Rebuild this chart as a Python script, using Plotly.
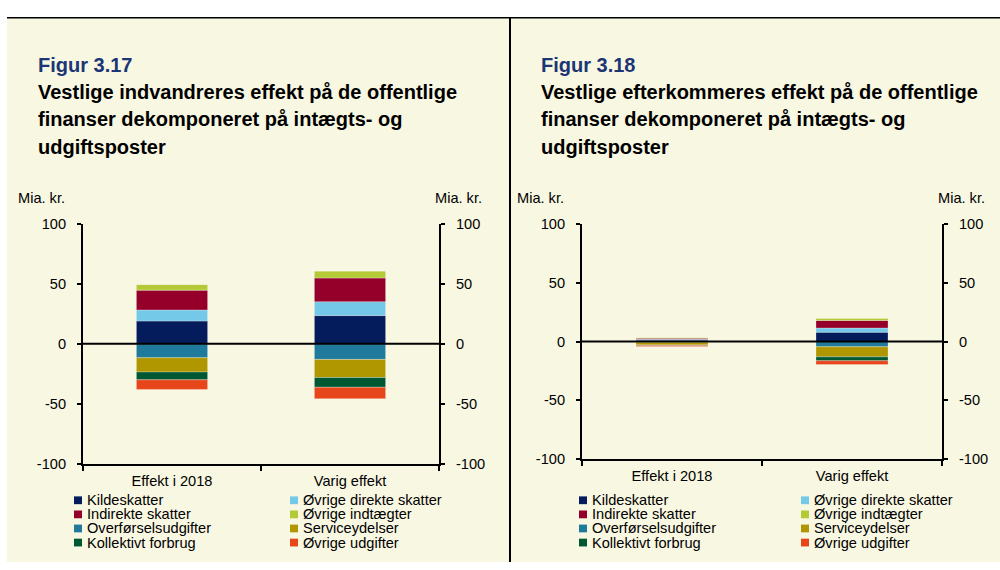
import plotly.graph_objects as go

# ---------------- data ----------------
categories = ["Effekt i 2018", "Varig effekt"]
series_names = ["Kildeskatter", "Øvrige direkte skatter", "Indirekte skatter", "Øvrige indtægter",
                "Overførselsudgifter", "Serviceydelser", "Kollektivt forbrug", "Øvrige udgifter"]
series_colors = ["#041C5B", "#74C8E8", "#95002B", "#B3C935",
                 "#1F7A9C", "#B09700", "#005833", "#E64619"]

# Figur 3.17 (vestlige indvandrere), Mia. kr.
fig17_2018 = [19.0, 9.2, 16.5, 4.6, -11.6, -11.9, -6.5, -8.1]
fig17_varig = [23.5, 11.6, 19.7, 5.7, -13.0, -15.1, -8.1, -9.5]
# Figur 3.18 (vestlige efterkommere), Mia. kr.
fig18_2018 = [1.2, 0.8, 0.9, 0.4, -0.6, -2.2, -0.6, -0.7]
fig18_varig = [8.0, 3.6, 6.4, 1.7, -4.4, -8.6, -3.3, -3.3]

y_ticks = [-100, -50, 0, 50, 100]
y_tick_labels = ["-100", "-50", "0", "50", "100"]
unit_label = "Mia. kr."
titles_fig = ["Figur 3.17", "Figur 3.18"]
titles_text = [
    ["Vestlige indvandreres effekt på de offentlige", "finanser dekomponeret på intægts- og", "udgiftsposter"],
    ["Vestlige efterkommeres effekt på de offentlige", "finanser dekomponeret på intægts- og", "udgiftsposter"],
]

# ---------------- layout constants ----------------
W, H = 1000, 570
FONT = "Liberation Sans, Arial, sans-serif"
BG = "#F8F7E2"
FS = 14.6
TFS = 20


def px(x):
    return x / W


def py(y):
    return 1 - y / H


fig = go.Figure()

panels = [
    dict(xa="x", ya="y", ya_r="y3", vals=(fig17_2018, fig17_varig),
         xdom=[83, 439], ydom=[469, 222], left=7, right=510, leg=[74, 290], title_x=36),
    dict(xa="x2", ya="y2", ya_r="y4", vals=(fig18_2018, fig18_varig),
         xdom=[582, 942], ydom=[464, 222.5], left=511, right=1000, leg=[579, 801], title_x=539),
]

for p in panels:
    v2018, vvarig = p["vals"]
    for i, name in enumerate(series_names):
        fig.add_trace(go.Bar(
            x=categories, y=[v2018[i], vvarig[i]], name=name,
            marker=dict(color=series_colors[i], line=dict(width=0.6, color="rgba(255,255,255,0.45)")),
            xaxis=p["xa"], yaxis=p["ya"], showlegend=False,
        ))
    # empty trace so the mirrored right-hand axis is drawn
    fig.add_trace(go.Scatter(x=categories, y=[None, None], mode="markers", xaxis=p["xa"],
                             yaxis=p["ya_r"], showlegend=False, hoverinfo="skip"))

axis_common = dict(
    showline=True, linecolor="black", linewidth=2, ticks="outside", tickcolor="black",
    tickwidth=1.5, showgrid=False, zeroline=False,
    tickfont=dict(family=FONT, size=FS, color="black"),
)

layout = dict(
    width=W, height=H, margin=dict(l=0, r=0, t=0, b=0),
    paper_bgcolor="white", plot_bgcolor="rgba(0,0,0,0)",
    barmode="relative", bargap=0.6, showlegend=False,
    font=dict(family=FONT, size=FS, color="black"),
)

shapes = []
annotations = []

for k, p in enumerate(panels):
    xname = "xaxis" if k == 0 else "xaxis2"
    yname = "yaxis" if k == 0 else "yaxis2"
    yrname = "yaxis3" if k == 0 else "yaxis4"
    ydom = [py(p["ydom"][0]), py(p["ydom"][1])]
    layout[xname] = dict(axis_common, domain=[px(p["xdom"][0]), px(p["xdom"][1])],
                         type="category", range=[-0.5, 1.5], tickson="boundaries",
                         ticklen=5, anchor=p["ya"], ticklabelstandoff=3)
    layout[yname] = dict(axis_common, domain=ydom, range=[-100, 100], tickvals=y_ticks,
                         ticktext=y_tick_labels, ticklen=4, anchor=p["xa"], ticklabelstandoff=8)
    layout[yrname] = dict(axis_common, range=[-100, 100], tickvals=y_ticks, ticktext=y_tick_labels,
                          ticklen=4, overlaying=p["ya"], side="right", anchor=p["xa"],
                          ticklabelstandoff=8)

    # panel background
    shapes.append(dict(type="rect", xref="paper", yref="paper", x0=px(p["left"]), x1=px(p["right"]),
                       y0=0, y1=py(10), fillcolor=BG, line=dict(width=0), layer="below"))
    # zero line
    shapes.append(dict(type="line", xref=p["xa"] + " domain", yref=p["ya"], x0=0, x1=1, y0=0, y1=0,
                       line=dict(color="black", width=2), layer="above"))

    # titles
    annotations.append(dict(text="<b>" + titles_fig[k] + "</b>", xref="paper", yref="paper",
                            x=px(p["title_x"]), y=py(58.5), xanchor="left", yanchor="middle",
                            showarrow=False, font=dict(family=FONT, size=TFS, color="#1B3575")))
    for j, line in enumerate(titles_text[k]):
        annotations.append(dict(text="<b>" + line + "</b>", xref="paper", yref="paper",
                                x=px(p["title_x"]), y=py(86.5 + 28.2 * j), xanchor="left", yanchor="middle",
                                showarrow=False, font=dict(family=FONT, size=TFS, color="black")))

    # unit labels
    annotations.append(dict(text=unit_label, xref="paper", yref="paper", x=px(p["xdom"][0] - 16),
                            y=py(196), xanchor="right", yanchor="middle", showarrow=False,
                            font=dict(family=FONT, size=FS)))
    annotations.append(dict(text=unit_label, xref="paper", yref="paper", x=px(p["xdom"][1] - 6),
                            y=py(196), xanchor="left", yanchor="middle", showarrow=False,
                            font=dict(family=FONT, size=FS)))

    # legend (two columns, four rows)
    row_y = [506.5, 521, 535.5, 550]
    legend_cols = [[0, 2, 4, 6], [1, 3, 5, 7]]
    for c, idxs in enumerate(legend_cols):
        mx = p["leg"][c]
        for r, si in enumerate(idxs):
            yc = row_y[r]
            shapes.append(dict(type="rect", xref="paper", yref="paper",
                               x0=px(mx), x1=px(mx + 8), y0=py(yc + 4), y1=py(yc - 4),
                               fillcolor=series_colors[si], line=dict(width=0), layer="above"))
            annotations.append(dict(text=series_names[si], xref="paper", yref="paper",
                                    x=px(mx + 11), y=py(yc), xanchor="left", yanchor="middle",
                                    showarrow=False, font=dict(family=FONT, size=FS, color="black")))

# frame lines
shapes.append(dict(type="line", xref="paper", yref="paper", x0=px(7), x1=1, y0=py(10), y1=py(10),
                   line=dict(color="black", width=1.5), layer="above"))
shapes.append(dict(type="line", xref="paper", yref="paper", x0=px(510), x1=px(510), y0=py(10), y1=0,
                   line=dict(color="black", width=2), layer="above"))

layout["shapes"] = shapes
layout["annotations"] = annotations
fig.update_layout(**layout)

fig.write_html("out.html", config={"displayModeBar": False},
               post_script="document.body.style.margin='0';document.body.style.overflow='hidden';")
